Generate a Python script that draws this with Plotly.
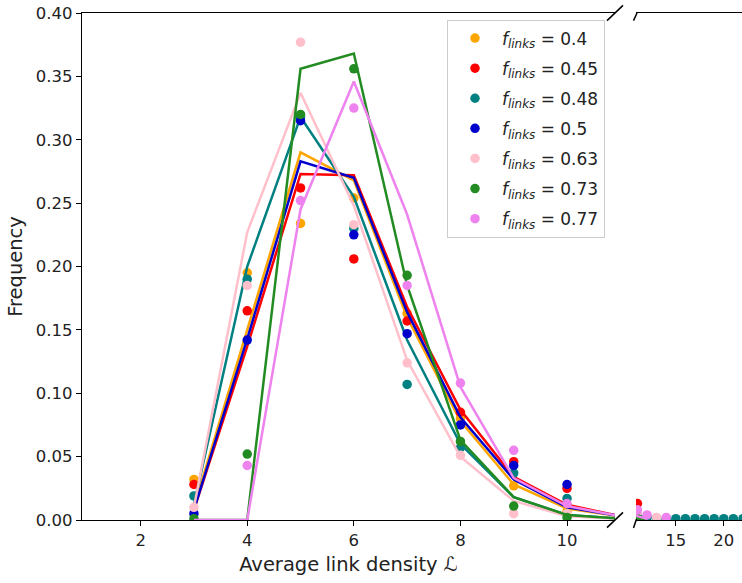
import plotly.graph_objects as go

# ---------------- data ----------------
labels = ["0.4", "0.45", "0.48", "0.5", "0.63", "0.73", "0.77"]
colors = ["#FFA500", "#FF0000", "#008080", "#0000CD", "#FFC0CB", "#228B22", "#EE82EE"]

# measured points (dots)
dot_x_orange = [3, 4, 5, 6, 7, 8, 9, 10, 11]
dot_y_orange = [0.032, 0.195, 0.234, 0.254, 0.163, 0.080, 0.027, 0.007, 0.002]
dot_x_red = [3, 4, 5, 6, 7, 8, 9, 10, 11]
dot_y_red = [0.028, 0.165, 0.262, 0.206, 0.157, 0.085, 0.046, 0.025, 0.013]
dot_x_teal = [3, 4, 5, 6, 7, 8, 9, 10, 11, 12, 13, 14, 15, 16, 17, 18, 19, 20, 21, 22]
dot_y_teal = [0.019, 0.190, 0.318, 0.230, 0.107, 0.057, 0.037, 0.017, 0.003, 0.002,
              0.001, 0.001, 0.001, 0.001, 0.001, 0.001, 0.001, 0.001, 0.001, 0.001]
dot_x_blue = [3, 4, 5, 6, 7, 8, 9, 10]
dot_y_blue = [0.005, 0.142, 0.315, 0.225, 0.147, 0.075, 0.043, 0.028]
dot_x_pink = [3, 4, 5, 6, 7, 8, 9, 10, 11, 13]
dot_y_pink = [0.010, 0.185, 0.377, 0.233, 0.124, 0.051, 0.005, 0.005, 0.006, 0.002]
dot_x_green = [3, 4, 5, 6, 7, 8, 9, 10, 11]
dot_y_green = [0.001, 0.052, 0.320, 0.356, 0.193, 0.062, 0.011, 0.002, 0.001]
dot_x_violet = [4, 5, 6, 7, 8, 9, 10, 11, 12, 14]
dot_y_violet = [0.043, 0.252, 0.325, 0.185, 0.108, 0.055, 0.013, 0.008, 0.004, 0.002]

# model curves (lines)
line_x = [3, 4, 5, 6, 7, 8, 9, 10, 11, 12]
line_y_orange = [0.010, 0.150, 0.290, 0.268, 0.160, 0.078, 0.028, 0.009, 0.003, 0.001]
line_y_red = [0.008, 0.137, 0.273, 0.272, 0.168, 0.087, 0.034, 0.012, 0.003, 0.001]
line_y_teal = [0.012, 0.200, 0.318, 0.255, 0.142, 0.060, 0.018, 0.004, 0.001, 0.0]
line_y_blue = [0.008, 0.143, 0.283, 0.270, 0.164, 0.081, 0.032, 0.010, 0.003, 0.001]
line_y_pink = [0.010, 0.227, 0.337, 0.248, 0.126, 0.050, 0.015, 0.003, 0.001, 0.0]
line_y_green = [0.0, 0.0, 0.356, 0.368, 0.185, 0.063, 0.018, 0.004, 0.001, 0.0]
line_y_violet = [0.0, 0.0, 0.245, 0.346, 0.241, 0.105, 0.033, 0.011, 0.003, 0.001]

dots_x = [dot_x_orange, dot_x_red, dot_x_teal, dot_x_blue, dot_x_pink, dot_x_green, dot_x_violet]
dots_y = [dot_y_orange, dot_y_red, dot_y_teal, dot_y_blue, dot_y_pink, dot_y_green, dot_y_violet]
lines_y = [line_y_orange, line_y_red, line_y_teal, line_y_blue, line_y_pink, line_y_green, line_y_violet]

y_ticks = [0.0, 0.05, 0.10, 0.15, 0.20, 0.25, 0.30, 0.35, 0.40]
x_ticks_main = [2, 4, 6, 8, 10]
x_ticks_tail = [15, 20]

# ---------------- geometry ----------------
W, H = 742, 583
ML, MT, MB, MR = 82, 13, 63, 0
PW, PH = W - ML - MR, H - MT - MB
main_right_px = 615
tail_left_px = 636
dom_main = [0, (main_right_px - ML) / PW]
dom_tail = [(tail_left_px - ML) / PW, 1]

def px(xp):
    return (xp - ML) / PW

def py(yp):
    return (H - MB - yp) / PH

fig = go.Figure()

for i in range(len(labels)):
    for xa in ["x", "x2"]:
        fig.add_trace(go.Scatter(
            x=dots_x[i], y=dots_y[i], mode="markers", xaxis=xa, yaxis="y",
            marker=dict(color=colors[i], size=9.5),
            name="<i>f</i><sub><i>links</i></sub> = " + labels[i],
            showlegend=(xa == "x"), legendgroup=labels[i],
        ))
        fig.add_trace(go.Scatter(
            x=line_x, y=lines_y[i], mode="lines", xaxis=xa, yaxis="y",
            line=dict(color=colors[i], width=2.5),
            showlegend=False, legendgroup=labels[i], hoverinfo="skip",
        ))

font_family = "DejaVu Sans"
axis_common = dict(
    showline=True, linecolor="#000000", linewidth=1.2, mirror=True,
    ticks="outside", ticklen=5, tickwidth=1.2, tickcolor="#000000",
    showgrid=False, zeroline=False,
    tickfont=dict(family=font_family, size=16.5, color="#222222"),
)

fig.update_layout(
    width=W, height=H,
    margin=dict(l=ML, r=MR, t=MT, b=MB),
    paper_bgcolor="white", plot_bgcolor="white",
    font=dict(family=font_family, color="#222222"),
    xaxis=dict(domain=dom_main, range=[0.9, 10.9], tickvals=x_ticks_main,
               title=dict(text="Average link density ℒ",
                          font=dict(family=font_family, size=19.5, color="#222222"),
                          standoff=8),
               **axis_common),
    xaxis2=dict(domain=dom_tail, range=[10.85, 21.9], tickvals=x_ticks_tail,
                anchor="y", **axis_common),
    yaxis=dict(range=[0, 0.40], tickvals=y_ticks, tickformat=".2f",
               showline=True, linecolor="#000000", linewidth=1.2, mirror=False,
               ticks="outside", ticklen=5, tickwidth=1.2, tickcolor="#000000",
               showgrid=False, zeroline=False,
               tickfont=dict(family=font_family, size=16.5, color="#222222"),
               title=dict(text="Frequency",
                          font=dict(family=font_family, size=19.5, color="#222222"),
                          standoff=8)),
    legend=dict(x=px(447), y=py(19.5), xanchor="left", yanchor="top",
                bordercolor="#cccccc", borderwidth=1, bgcolor="rgba(255,255,255,0.85)",
                font=dict(family=font_family, size=17, color="#222222"),
                itemwidth=44, tracegroupgap=5, traceorder="grouped"),
    showlegend=True,
)

# broken-axis marks
marks = [
    ((main_right_px - 8, 13 + 7.6), (main_right_px + 8, 13 - 7.6)),
    ((main_right_px - 8, 520 + 7.6), (main_right_px + 8, 520 - 7.6)),
    ((tail_left_px - 2.5, 13 + 7.6), (tail_left_px + 1, 13)),
    ((tail_left_px - 2.5, 520 + 8), (tail_left_px + 0.5, 519)),
]
for (x0, y0), (x1, y1) in marks:
    fig.add_shape(type="line", xref="paper", yref="paper",
                  x0=px(x0), y0=py(y0), x1=px(x1), y1=py(y1),
                  line=dict(color="#000000", width=1.5))

fig.write_html("out.html")
